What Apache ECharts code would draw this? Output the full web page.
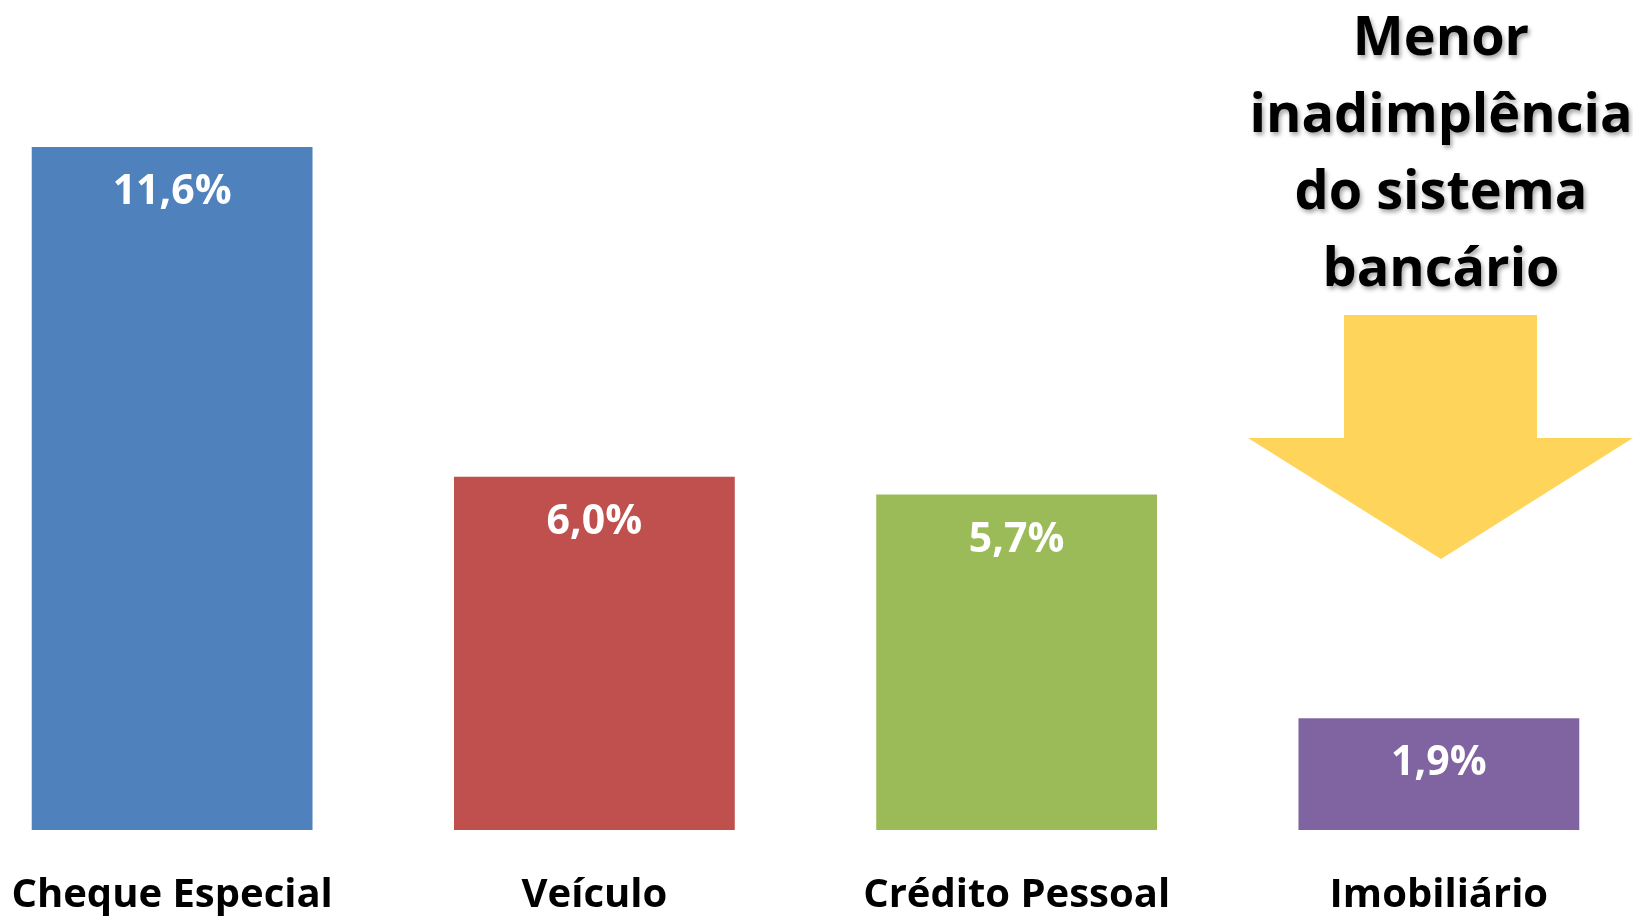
<!DOCTYPE html>
<html>
<head>
<meta charset="utf-8">
<title>Inadimplência por modalidade</title>
<script src="https://cdn.jsdelivr.net/npm/echarts@6/dist/echarts.min.js"></script>
<style>
html,body{margin:0;padding:0;background:#fff;}
#main{width:1633px;height:919px;}
</style>
</head>
<body>
<div id="main"></div>
<script>
// dados do gráfico
var categorias = ['Cheque Especial', 'Veículo', 'Crédito Pessoal', 'Imobiliário'];
var valores = [11.6, 6.0, 5.7, 1.9];
var cores = ['#4F81BD', '#C0504D', '#9BBB59', '#8064A2'];
var nota = ['Menor', 'inadimplência', 'do sistema', 'bancário'];

var fonte = '"Open Sans", "DejaVu Sans", sans-serif';

function formataPct(v){
	return v.toFixed(1).replace('.', ',') + '%';
}

function montaGrafico(){
	var chart = echarts.init(document.getElementById('main'));

	// cada barra com sua cor
	var dados = [];
	for(var i = 0;i<valores.length;i++){
		dados.push({value: valores[i], itemStyle: {color: cores[i]}});
	}

	var option = {
		animation: false,
		grid: {left: -39, right: -17, top: 147, bottom: 89, containLabel: false, outerBoundsMode: 'none'},
		xAxis: {
			type: 'category',
			data: categorias,
			axisLine: {show: false},
			axisTick: {show: false},
			axisLabel: {
				interval: 0,
				margin: 42,
				color: '#000',
				fontFamily: fonte,
				fontWeight: 'bold',
				fontSize: 40,
				lineHeight: 48
			}
		},
		yAxis: {
			type: 'value',
			min: 0,
			max: 11.6,
			show: false,
			splitLine: {show: false}
		},
		series: [{
			type: 'bar',
			data: dados,
			barWidth: '66.5%',
			label: {
				show: true,
				position: 'insideTop',
				distance: 25,
				color: '#fff',
				fontFamily: fonte,
				fontWeight: 'bold',
				fontSize: 41,
				formatter: function(p){ return formataPct(p.value); }
			}
		}],
		// seta e texto de destaque
		graphic: [{
			type: 'polygon',
			shape: {points: [[1344, 315], [1537, 315], [1537, 438], [1633, 438], [1441, 559], [1248, 438], [1344, 438]]},
			style: {fill: '#FFD45B'}
		}, {
			type: 'text',
			x: 1441,
			y: 1,
			style: {
				text: nota.join('\n'),
				fill: '#000',
				font: 'bold 54px ' + fonte,
				lineHeight: 77,
				align: 'center',
				verticalAlign: 'top',
				textShadowColor: 'rgba(0,0,0,0.35)',
				textShadowBlur: 4,
				textShadowOffsetX: 2,
				textShadowOffsetY: 3
			}
		}]
	};

	chart.setOption(option);
}

montaGrafico();
</script>
</body>
</html>
